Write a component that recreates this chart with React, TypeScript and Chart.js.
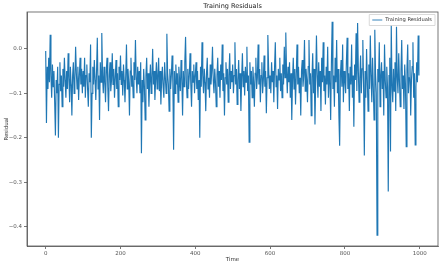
import { useEffect, useRef } from 'react';
import { Chart, registerables } from 'chart.js';

Chart.register(...registerables);

const TIME_STEP = 2;
const residuals: number[] = [
  // 0..48
  -0.005, -0.167, -0.04, -0.09, -0.02, -0.075, 0.032, -0.06, -0.11, -0.035, -0.085, -0.05, -0.12, -0.195, -0.07, -0.1, -0.04, -0.2, -0.08, -0.03, -0.095, -0.06, -0.13, -0.045, -0.085,
  // 50..98
  -0.02, -0.07, -0.11, -0.05, -0.09, -0.01, -0.065, -0.12, -0.04, -0.08, -0.15, -0.06, -0.03, -0.1, -0.07, 0.005, -0.055, -0.09, -0.04, -0.115, -0.06, -0.02, -0.08, -0.045, -0.1,
  // 100..148
  -0.05, -0.085, -0.02, -0.11, -0.06, -0.035, -0.09, -0.13, -0.055, -0.075, 0.01, -0.2, -0.1, -0.04, -0.08, -0.025, -0.07, -0.115, -0.05, 0.025, -0.09, -0.06, -0.16, -0.03, -0.075,
  // 150..198
  0.036, -0.06, -0.1, -0.04, -0.075, -0.12, -0.05, -0.02, -0.085, -0.14, -0.06, -0.03, -0.095, -0.07, -0.01, -0.08, -0.045, -0.11, -0.065, -0.025, -0.09, -0.055, -0.13, -0.04, -0.07,
  // 200..248
  -0.015, -0.08, -0.05, -0.105, -0.035, -0.07, -0.12, -0.06, 0.01, -0.09, -0.045, -0.075, -0.15, -0.05, -0.02, -0.085, -0.06, -0.11, -0.03, -0.07, 0.02, -0.065, -0.1, -0.04, -0.08,
  // 250..298
  -0.05, -0.1, -0.03, -0.235, -0.07, -0.12, -0.045, -0.085, -0.16, -0.06, -0.02, -0.09, -0.055, -0.13, -0.075, -0.035, -0.1, -0.065, 0.0, -0.08, -0.05, -0.115, -0.07, -0.03, -0.09,
  // 300..348
  -0.06, -0.02, -0.095, -0.05, -0.125, -0.07, -0.04, -0.085, -0.11, -0.03, -0.065, -0.1, 0.034, -0.055, -0.08, -0.14, -0.045, -0.09, -0.06, -0.015, -0.075, -0.227, -0.05, -0.1, -0.035,
  // 350..398
  -0.08, -0.055, -0.12, -0.04, -0.07, -0.095, -0.025, -0.065, -0.15, -0.05, -0.085, -0.03, 0.027, -0.07, -0.11, -0.045, -0.09, -0.06, -0.01, -0.08, -0.13, -0.05, -0.075, -0.035, -0.1,
  // 400..448
  -0.06, -0.03, -0.09, -0.05, -0.115, -0.07, -0.2, -0.04, -0.085, 0.015, -0.06, -0.1, -0.045, -0.075, -0.14, -0.055, -0.02, -0.09, -0.065, -0.11, -0.035, -0.08, -0.05, 0.005, -0.07,
  // 450..498
  -0.1, -0.045, -0.075, -0.13, -0.06, -0.02, -0.085, -0.05, -0.11, -0.035, -0.07, 0.01, -0.095, -0.055, -0.15, -0.065, -0.03, -0.08, -0.045, -0.12, -0.06, -0.01, -0.09, -0.05, -0.075,
  // 500..548
  -0.035, -0.1, -0.06, 0.015, -0.08, -0.045, -0.125, -0.07, -0.025, -0.09, -0.055, -0.14, -0.065, -0.01, -0.085, -0.05, -0.105, -0.04, -0.075, 0.005, -0.095, -0.06, -0.21, -0.03, -0.08,
  // 550..598
  -0.05, -0.11, -0.04, -0.075, -0.13, -0.055, -0.02, -0.09, -0.065, 0.01, -0.08, -0.045, -0.12, -0.06, -0.03, -0.1, -0.07, -0.015, -0.085, -0.05, -0.145, -0.065, 0.031, -0.04, -0.09,
  // 600..648
  -0.06, -0.1, -0.03, -0.075, -0.05, -0.12, -0.04, 0.015, -0.085, -0.06, -0.135, -0.045, -0.07, -0.02, -0.095, -0.055, -0.11, -0.035, -0.08, 0.005, -0.065, 0.037, -0.05, -0.1, -0.04,
  // 650..698
  -0.075, -0.03, -0.11, -0.055, -0.16, -0.07, -0.02, -0.09, -0.045, -0.125, -0.06, 0.01, -0.08, -0.04, -0.1, -0.065, -0.15, -0.05, -0.025, -0.085, -0.06, 0.02, -0.095, -0.045, -0.07,
  // 700..748
  -0.12, -0.04, 0.02, -0.08, -0.055, -0.15, -0.065, -0.01, -0.1, -0.045, -0.17, -0.07, 0.03, -0.06, -0.11, -0.03, -0.085, -0.05, -0.14, -0.02, -0.075, 0.015, -0.095, -0.06, -0.125,
  // 750..798
  -0.04, -0.08, 0.005, -0.11, -0.05, -0.07, -0.16, -0.03, 0.061, -0.09, -0.06, -0.13, -0.02, -0.075, 0.02, -0.1, -0.045, -0.15, -0.218, -0.06, -0.025, -0.085, 0.01, -0.12, -0.05,
  // 800..848
  -0.07, -0.1, -0.03, 0.025, -0.09, -0.055, -0.14, -0.04, -0.08, 0.01, -0.11, -0.06, -0.175, -0.035, -0.07, 0.035, -0.095, 0.058, -0.05, -0.12, -0.065, -0.015, -0.1, -0.045, 0.02,
  // 850..898
  -0.08, -0.24, -0.05, -0.11, 0.0, -0.07, -0.14, -0.035, -0.09, 0.03, -0.06, -0.12, -0.02, -0.085, -0.16, 0.043, -0.055, -0.1, -0.419, -0.045, -0.075, 0.015, -0.13, -0.06, -0.03,
  // 900..948
  -0.09, -0.05, -0.15, 0.01, -0.07, -0.11, -0.04, -0.085, -0.321, -0.06, -0.02, -0.231, 0.054, -0.08, -0.12, -0.045, -0.095, -0.03, -0.14, 0.05, -0.065, -0.1, -0.01, -0.075, -0.13,
  // 950..998
  -0.05, 0.02, -0.09, -0.06, -0.135, -0.035, -0.08, -0.22, -0.045, 0.01, -0.1, -0.065, -0.025, -0.15, -0.07, -0.04, 0.015, -0.11, -0.055, -0.216, -0.085, -0.03, -0.075, 0.03, -0.06,
];
const timeSteps: number[] = residuals.map((_, i) => i * TIME_STEP);

const xTickValues = [0, 200, 400, 600, 800, 1000];
const yTickValues = [-0.4, -0.3, -0.2, -0.1, 0.0];

const chartTitle = 'Training Residuals';
const seriesLabel = 'Training Residuals';
const xAxisTitle = 'Time';
const yAxisTitle = 'Residual';

const LINE_COLOR = '#1f77b4';
const AXIS_COLOR = '#555';
const FONT_FAMILY = '"DejaVu Sans", sans-serif';

const framePlugin = {
  id: 'frameAndLegend',
  afterDatasetsDraw(chart: any) {
    const { ctx, chartArea: a } = chart;
    ctx.save();
    ctx.strokeStyle = AXIS_COLOR;
    ctx.lineWidth = 0.8;
    ctx.strokeRect(a.left, a.top, a.right - a.left, a.bottom - a.top);

    // legend box (upper right, inside axes)
    ctx.font = `5.2px ${FONT_FAMILY}`;
    const tw = ctx.measureText(seriesLabel).width;
    const boxW = tw + 19;
    const boxH = 11;
    const bx = a.right - 3 - boxW;
    const by = a.top + 2.5;
    ctx.fillStyle = 'rgba(255,255,255,0.85)';
    ctx.strokeStyle = '#d0d0d0';
    ctx.lineWidth = 0.8;
    ctx.beginPath();
    ctx.rect(bx, by, boxW, boxH);
    ctx.fill();
    ctx.stroke();
    const my = by + boxH / 2;
    ctx.strokeStyle = LINE_COLOR;
    ctx.lineWidth = 0.9;
    ctx.beginPath();
    ctx.moveTo(bx + 3, my);
    ctx.lineTo(bx + 13, my);
    ctx.stroke();
    ctx.fillStyle = '#333';
    ctx.textBaseline = 'middle';
    ctx.textAlign = 'left';
    ctx.fillText(seriesLabel, bx + 16, my);
    ctx.restore();
  },
};

function fmtY(v: number): string {
  if (Math.abs(v) < 1e-9) return '0.0';
  const s = Math.abs(v).toFixed(1);
  return v < 0 ? '\u2212' + s : s;
}

export default function App() {
  const canvasRef = useRef<HTMLCanvasElement | null>(null);

  useEffect(() => {
    document.body.style.margin = '0';
    const canvas = canvasRef.current;
    if (!canvas) return;
    const points = timeSteps.map((t, i) => ({ x: t, y: residuals[i] }));
    const tickFont = { size: 5.5, family: FONT_FAMILY };
    const chart = new Chart(canvas, {
      type: 'line',
      data: {
        datasets: [
          {
            label: seriesLabel,
            data: points,
            borderColor: LINE_COLOR,
            backgroundColor: LINE_COLOR,
            borderWidth: 1.15,
            pointRadius: 0,
            tension: 0,
            fill: false,
          },
        ],
      },
      options: {
        responsive: false,
        animation: false,
        events: [],
        layout: { padding: { left: 0, right: 5, top: 0, bottom: 0 } },
        plugins: {
          legend: { display: false },
          tooltip: { enabled: false },
          title: {
            display: true,
            text: chartTitle,
            fullSize: false,
            color: '#222',
            font: { size: 6.5, family: FONT_FAMILY, weight: 'normal' },
            padding: { top: 2.5, bottom: 1.7 },
          },
        },
        scales: {
          x: {
            type: 'linear',
            min: -50,
            max: 1049,
            afterBuildTicks: (scale: any) => {
              scale.ticks = xTickValues.map((v) => ({ value: v }));
            },
            afterFit: (scale: any) => {
              scale.height = 20;
            },
            ticks: {
              autoSkip: false,
              maxRotation: 0,
              padding: 1,
              color: AXIS_COLOR,
              font: tickFont,
              callback: (v: any) => String(v),
            },
            grid: {
              display: true,
              drawOnChartArea: false,
              drawTicks: true,
              tickLength: 3,
              color: AXIS_COLOR,
              lineWidth: 0.8,
            },
            border: { display: true, color: AXIS_COLOR, width: 0.8 },
            title: {
              display: true,
              text: xAxisTitle,
              color: '#333',
              font: tickFont,
              padding: { top: 0, bottom: 3.4 },
            },
          },
          y: {
            type: 'linear',
            min: -0.4435,
            max: 0.083,
            afterBuildTicks: (scale: any) => {
              scale.ticks = yTickValues.map((v) => ({ value: v }));
            },
            afterFit: (scale: any) => {
              scale.width = 27;
            },
            ticks: {
              autoSkip: false,
              padding: 2,
              color: AXIS_COLOR,
              font: tickFont,
              callback: (v: any) => fmtY(Number(v)),
            },
            grid: {
              display: true,
              drawOnChartArea: false,
              drawTicks: true,
              tickLength: 3,
              color: AXIS_COLOR,
              lineWidth: 0.8,
            },
            border: { display: true, color: AXIS_COLOR, width: 0.8 },
            title: {
              display: true,
              text: yAxisTitle,
              color: '#333',
              font: tickFont,
              padding: { top: 3, bottom: 0 },
            },
          },
        },
      },
      plugins: [framePlugin],
    } as any);
    return () => chart.destroy();
  }, []);

  return (
    <div style={{ position: 'fixed', left: 0, top: 0, width: 443, height: 266, background: '#fff' }}>
      <canvas ref={canvasRef} width={443} height={266} style={{ display: 'block' }} />
    </div>
  );
}
